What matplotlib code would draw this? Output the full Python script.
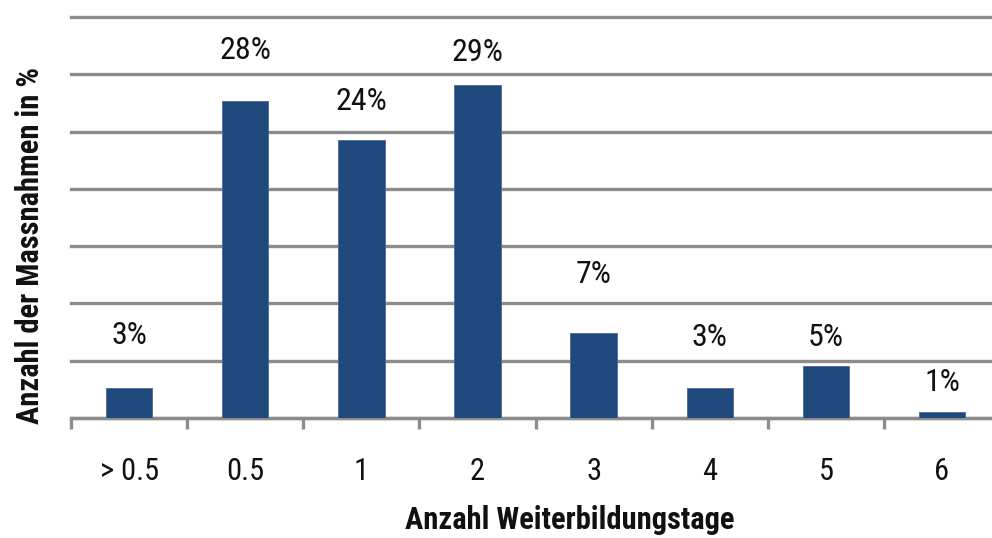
import matplotlib
matplotlib.use("Agg")
import matplotlib.pyplot as plt
from matplotlib import font_manager

categories = ["> 0.5", "0.5", "1", "2", "3", "4", "5", "6"]
values = [2.6, 27.7, 24.3, 29.1, 7.4, 2.6, 4.5, 0.5]
labels = ["3%", "28%", "24%", "29%", "7%", "3%", "5%", "1%"]
label_y = [7.2, 32.1, 27.6, 31.9, 12.5, 7.0, 7.0, 3.1]

names = {f.name for f in font_manager.fontManager.ttflist}
fam = "Liberation Sans Narrow" if "Liberation Sans Narrow" in names else "Roboto Condensed" if "Roboto Condensed" in names else "Liberation Sans"
plt.rcParams["font.family"] = [fam, "DejaVu Sans"]

fig = plt.figure(figsize=(9.92, 5.38), dpi=100)
ax = fig.add_axes([71/992, 120/538, 1 - 71/992, (418-17)/538])
x = list(range(len(categories)))
ax.bar(x, values, width=0.4, color="#1F497D", edgecolor="#4A6A96", linewidth=0.6, zorder=3)
for xi, lab, ly in zip(x, labels, label_y):
    ax.text(xi, ly, lab, ha="center", va="center", fontsize=23, color="#111111")

ax.set_xlim(-0.5, 7.43)
ax.set_ylim(0, 35)
ax.set_yticks(range(0, 36, 5))
ax.yaxis.grid(True, color="#8C8C8C", linewidth=2.4, zorder=0)
for gl in ax.get_ygridlines():
    gl.set_clip_on(False)
ax.tick_params(axis="y", left=False, labelleft=False)
for s in ["left", "right", "top"]:
    ax.spines[s].set_visible(False)
ax.spines["bottom"].set_color("#8C8C8C")
ax.spines["bottom"].set_linewidth(2.4)
ax.set_xticks(x)
ax.set_xticklabels(categories, fontsize=22, color="#111111")
ax.tick_params(axis="x", which="major", length=0, pad=28)
ax.set_xticks([i - 0.5 for i in range(len(categories))], minor=True)
ax.tick_params(axis="x", which="minor", length=8, width=2.4, color="#8C8C8C", direction="out")

fig.text(570/992, 1 - 520/538, "Anzahl Weiterbildungstage", ha="center", va="center",
         fontsize=22, fontweight="bold", color="#111111")
fig.text(30/992, 1 - 245/538, "Anzahl der Massnahmen in %", ha="center", va="center",
         rotation=90, fontsize=22, fontweight="bold", color="#111111")

fig.savefig("out.png", dpi=100)
